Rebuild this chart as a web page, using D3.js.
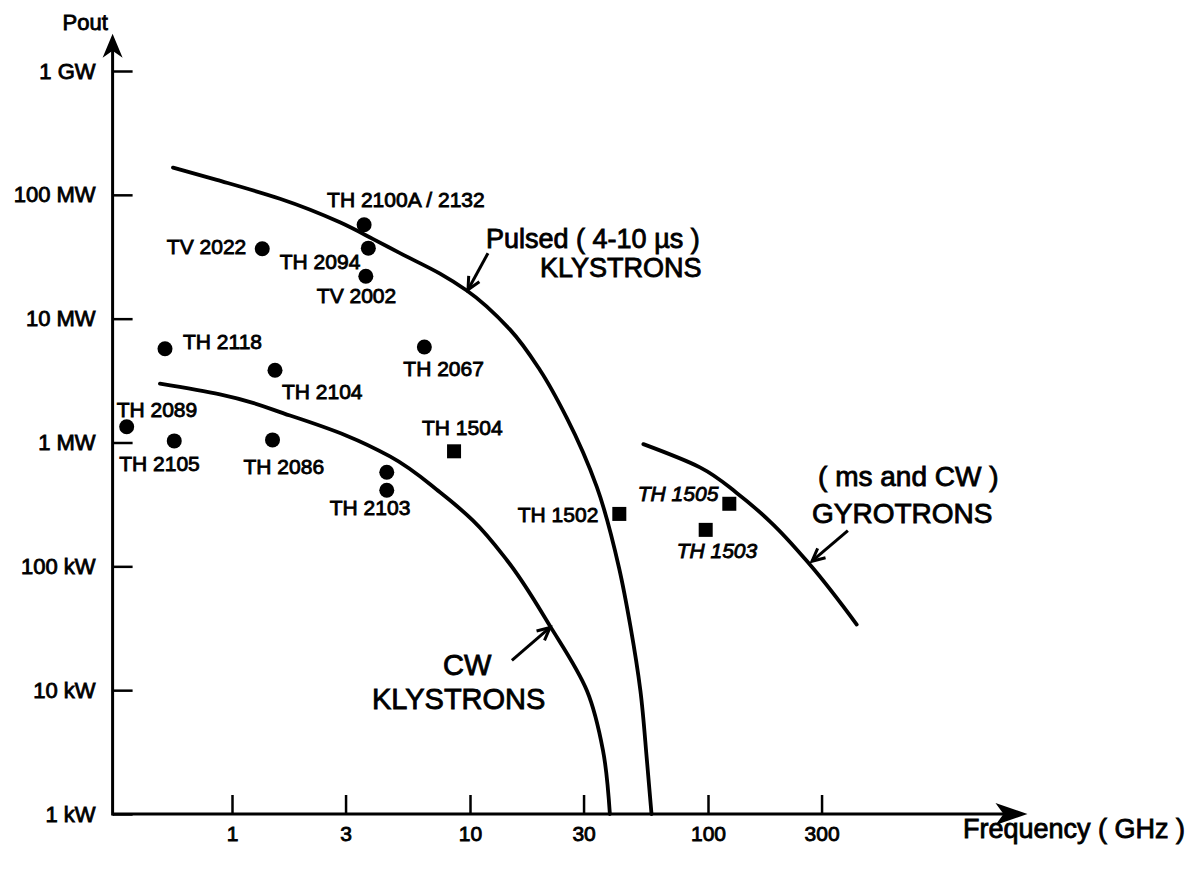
<!DOCTYPE html>
<html><head><meta charset="utf-8">
<script src="https://cdn.jsdelivr.net/npm/d3@7"></script>
<style>
body{margin:0;background:#fff}
svg{display:block;background:#fff}
text{font-family:"Liberation Sans",Arial,Helvetica,sans-serif;fill:#000;stroke:#000;stroke-width:0.85px}
</style>
</head><body>
<svg id="chart" width="1187" height="871"></svg>
<script>
// ---------------- DATA ----------------
const freqTicks = [1, 3, 10, 30, 100, 300];
const powerTicks = [1e3, 1e4, 1e5, 1e6, 1e7, 1e8, 1e9];
const powerTickLabels = ["1 kW", "10 kW", "100 kW", "1 MW", "10 MW", "100 MW", "1 GW"];

// Tube points (GHz, W)
const tubeNames = ["TH 2100A / 2132", "TH 2094", "TV 2002", "TV 2022", "TH 2118", "TH 2104", "TH 2067",
                   "TH 2089", "TH 2105", "TH 2086", "", "TH 2103",
                   "TH 1504", "TH 1502", "TH 1505", "TH 1503"];
const tubeFreq  = [3.59, 3.74, 3.65, 1.34, 0.523, 1.516, 6.43,
                   0.361, 0.572, 1.48, 4.47, 4.47,
                   8.57, 42.4, 122.9, 97.8];
const tubePower = [5.73e7, 3.71e7, 2.2e7, 3.67e7, 5.71e6, 3.83e6, 5.9e6,
                   1.34e6, 1.03e6, 1.05e6, 5.75e5, 4.12e5,
                   8.49e5, 2.65e5, 3.2e5, 1.97e5];
const tubeKind  = ["klystron","klystron","klystron","klystron","klystron","klystron","klystron",
                   "klystron","klystron","klystron","klystron","klystron",
                   "gyrotron","gyrotron","gyrotron","gyrotron"];

// Limit curves (GHz, W)
const pulsedFreq  = [0.565, 0.863, 1.59, 2.84, 3.92, 5.08, 7.48, 9.69, 14.7, 19.7, 25.5, 34.1, 42.3, 47.2, 52.0, 55.4, 57.9];
const pulsedPower = [1.66e8, 1.32e8, 9.3e7, 6.0e7, 4.39e7, 3.38e7, 2.31e7, 1.69e7, 8.19e6, 3.83e6, 1.58e6, 4.38e5, 9.7e4, 3.29e4, 9.9e3, 2.69e3, 1e3];
const cwFreq  = [0.498, 0.89, 1.753, 3.03, 4.61, 7.48, 10.3, 14.3, 21.7, 31.0, 36.2, 38.7];
const cwPower = [2.99e6, 2.45e6, 1.65e6, 1.135e6, 7.72e5, 3.96e5, 2.34e5, 1.12e5, 3.29e4, 9.9e3, 3.27e3, 1e3];
const gyroFreq  = [53.5, 92.5, 132.4, 182.3, 268.4, 421.7];
const gyroPower = [9.7e5, 6.3e5, 3.9e5, 2.3e5, 1.03e5, 3.39e4];

// Annotation texts
const annoLines = [
  ["Pulsed ( 4-10 \u00B5s )", "KLYSTRONS"],
  ["CW", "KLYSTRONS"],
  ["( ms and CW )", "GYROTRONS"]
];

// ---------------- LAYOUT / STYLE ----------------
const labelLayout = [
  {a:"start", dx:-37, dy:-18}, {a:"end", dx:-8, dy:21}, {a:"start", dx:-49, dy:27},
  {a:"end", dx:-16, dy:5}, {a:"start", dx:18, dy:0}, {a:"start", dx:7, dy:29},
  {a:"start", dx:-21, dy:29}, {a:"start", dx:-10, dy:-10}, {a:"start", dx:-55, dy:30},
  {a:"start", dx:-29, dy:34}, {a:"start", dx:0, dy:0}, {a:"start", dx:-57, dy:25},
  {a:"start", dx:-32, dy:-16}, {a:"end", dx:-21, dy:8}, {a:"end", dx:-11, dy:-3, italic:true},
  {a:"start", dx:-29, dy:28, italic:true}
];

// annotation anchors in data space (freq, power)
const annoText = [
  {lines:[[11.68, 3.75e7],[19.7, 2.19e7]], size:27},
  {lines:[[7.7, 1.33e4],[3.87, 7.0e3]], size:29},
  {lines:[[290, 4.44e5],[273.5, 2.25e5]], size:28}
];
const annoArrows = [
  {from:[11.9, 3.38e7], to:[9.81, 1.71e7]},
  {from:[15.0, 1.74e4], to:[21.7, 3.21e4]},
  {from:[387, 1.94e5], to:[273.5, 1.1e5]}
];

const svg = d3.select("#chart");
const x = d3.scaleLog().domain([1, 1000]).range([232, 946]);
const y = d3.scaleLog().domain([1e3, 1e9]).range([814, 71]);

const xAxisStart = 0.315, xAxisEnd = 2200;
const yAxisTop = 2e9;
const x0 = x(xAxisStart), y0 = y(1e3);

// axis lines
const g = svg.append("g");
g.append("line").attr("x1", x0).attr("y1", y0).attr("x2", x(xAxisEnd) - 10).attr("y2", y0)
  .attr("stroke", "#000").attr("stroke-width", 3);
g.append("line").attr("x1", x0).attr("y1", y0 + 1.5).attr("x2", x0).attr("y2", y(yAxisTop) + 8)
  .attr("stroke", "#000").attr("stroke-width", 3);
// arrowheads
const xe = x(xAxisEnd), ye = y(yAxisTop);
g.append("path").attr("d", `M${xe},${y0} L${xe-32},${y0-11} L${xe-24},${y0} L${xe-32},${y0+11} Z`).attr("fill", "#000");
g.append("path").attr("d", `M${x0},${ye} L${x0-10},${ye+24} L${x0},${ye+17} L${x0+10},${ye+24} Z`).attr("fill", "#000");

// ticks
const xAxis = d3.axisBottom(x).tickValues(freqTicks).tickFormat(d3.format("")).tickSize(-19).tickPadding(12);
const gx = svg.append("g").attr("transform", `translate(0,${y0})`).call(xAxis);
gx.select(".domain").remove();
gx.selectAll(".tick line").attr("stroke", "#000").attr("stroke-width", 2.5);
gx.selectAll(".tick text").attr("font-size", 21).attr("font-family", null);

const yAxis = d3.axisLeft(y).tickValues(powerTicks).tickFormat((d, i) => powerTickLabels[i]).tickSize(-20).tickPadding(17);
const gy = svg.append("g").attr("transform", `translate(${x0},0)`).call(yAxis);
gy.select(".domain").remove();
gy.selectAll(".tick line").attr("stroke", "#000").attr("stroke-width", 2.5);
gy.selectAll(".tick text").attr("font-size", 22).attr("font-family", null);

// axis titles
svg.append("text").attr("x", x0 - 50).attr("y", ye - 4).attr("font-size", 22).text("Pout");
svg.append("text").attr("x", 963).attr("y", y0 + 24).attr("font-size", 27).text("Frequency ( GHz )");

// curves
const line = d3.line().x(d => x(d[0])).y(d => y(d[1])).curve(d3.curveMonotoneY);
const curves = [
  d3.zip(pulsedFreq, pulsedPower),
  d3.zip(cwFreq, cwPower),
  d3.zip(gyroFreq, gyroPower)
];
svg.append("g").selectAll("path").data(curves).join("path")
  .attr("d", line).attr("fill", "none").attr("stroke", "#000").attr("stroke-width", 3.8)
  .attr("stroke-linecap", "round");

// points
const pts = tubeNames.map((n, i) => ({name:n, f:tubeFreq[i], p:tubePower[i], kind:tubeKind[i], lay:labelLayout[i]}));
const sq = 14;
svg.append("g").selectAll("circle").data(pts.filter(d => d.kind === "klystron")).join("circle")
  .attr("cx", d => x(d.f)).attr("cy", d => y(d.p)).attr("r", 7.5).attr("fill", "#000");
svg.append("g").selectAll("rect").data(pts.filter(d => d.kind === "gyrotron")).join("rect")
  .attr("x", d => x(d.f) - sq/2).attr("y", d => y(d.p) - sq/2).attr("width", sq).attr("height", sq).attr("fill", "#000");
svg.append("g").selectAll("text").data(pts.filter(d => d.name)).join("text")
  .attr("x", d => x(d.f) + d.lay.dx).attr("y", d => y(d.p) + d.lay.dy)
  .attr("text-anchor", d => d.lay.a)
  .attr("font-style", d => d.lay.italic ? "italic" : null)
  .attr("font-size", 21).text(d => d.name);

// annotations
annoText.forEach((a, i) => {
  a.lines.forEach((pos, j) => {
    svg.append("text").attr("x", x(pos[0])).attr("y", y(pos[1])).attr("font-size", a.size).text(annoLines[i][j]);
  });
});
annoArrows.forEach(a => {
  const x1 = x(a.from[0]), y1 = y(a.from[1]), x2 = x(a.to[0]), y2 = y(a.to[1]);
  const ang = Math.atan2(y2 - y1, x2 - x1), L = 14, s = 0.45;
  svg.append("line").attr("x1", x1).attr("y1", y1).attr("x2", x2).attr("y2", y2)
    .attr("stroke", "#000").attr("stroke-width", 3);
  svg.append("path")
    .attr("d", `M${x2 - L*Math.cos(ang - s)},${y2 - L*Math.sin(ang - s)} L${x2},${y2} L${x2 - L*Math.cos(ang + s)},${y2 - L*Math.sin(ang + s)}`)
    .attr("fill", "none").attr("stroke", "#000").attr("stroke-width", 3).attr("stroke-linejoin", "miter");
});
</script>
</body></html>
